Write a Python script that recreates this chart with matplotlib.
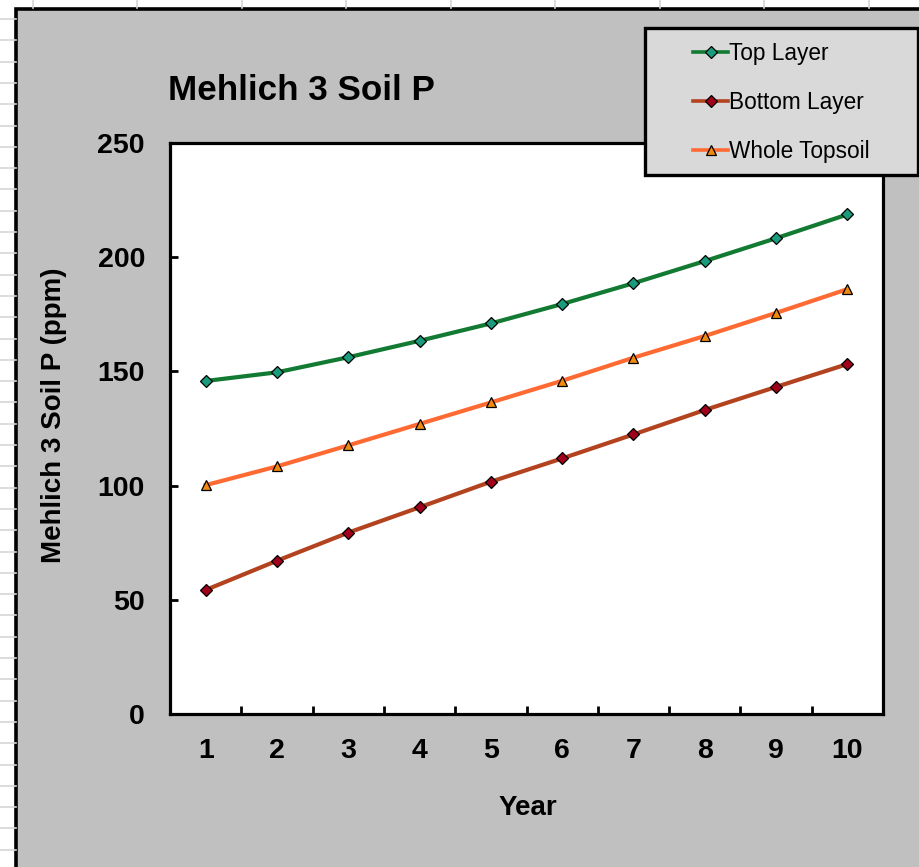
import matplotlib
matplotlib.use("Agg")
import matplotlib.pyplot as plt
from matplotlib.patches import Rectangle
from matplotlib.ticker import FixedLocator, NullFormatter

plt.rcParams['font.family'] = ['Liberation Sans', 'DejaVu Sans']

# Data
years = [1, 2, 3, 4, 5, 6, 7, 8, 9, 10]
top_layer = [145.8, 149.6, 156.2, 163.4, 171.0, 179.5, 188.6, 198.3, 208.3, 218.7]
bottom_layer = [54.3, 67.1, 79.4, 90.5, 101.7, 111.9, 122.4, 133.1, 143.2, 153.2]
whole_topsoil = [100.2, 108.4, 117.6, 127.0, 136.4, 145.9, 156.0, 165.5, 175.6, 186.0]
y_ticks = [0, 50, 100, 150, 200, 250]

W, H = 920, 867
fig = plt.figure(figsize=(W / 100, H / 100), dpi=100)
fig.patch.set_facecolor('white')

# Worksheet background with cell grid, and the gray chart area
bg = fig.add_axes([0, 0, 1, 1], zorder=-5)
bg.set_xlim(0, W)
bg.set_ylim(H, 0)
bg.axis('off')
grid_c = '#d6d6d6'
k = 0
while 19 + 21.3 * k < H:
    y = 19 + 21.3 * k
    bg.plot([0, 16], [y, y], color=grid_c, lw=1.2)
    k += 1
for x in [33, 137.5, 242, 346.5, 451, 555.5, 660, 764.5, 869]:
    bg.plot([x, x], [0, 8], color=grid_c, lw=1.2)
bg.add_patch(Rectangle((16.5, 9), 1000, 1000, facecolor='#c0c0c0',
                       edgecolor='black', lw=2.6))

# Plot area
ax = fig.add_axes([170 / W, 1 - 714 / H, 713 / W, 571 / H], zorder=1)
ax.set_facecolor('white')
for s in ax.spines.values():
    s.set_linewidth(2.3)
    s.set_color('black')

ax.plot(years, top_layer, color='#127a33', lw=3, marker='D', ms=5.8,
        mfc='#1a9c7c', mec='black', mew=0.9, label='Top Layer', zorder=3)
ax.plot(years, bottom_layer, color='#b3421f', lw=3, marker='D', ms=5.8,
        mfc='#a0001a', mec='black', mew=0.9, label='Bottom Layer', zorder=3)
ax.plot(years, whole_topsoil, color='#ff6a33', lw=3, marker='^', ms=7.2,
        mfc='#f08a10', mec='black', mew=0.9, label='Whole Topsoil', zorder=3)

ax.set_xlim(0.5, 10.5)
ax.set_ylim(0, 250)
ax.set_yticks(y_ticks)
ax.set_yticklabels([str(v) for v in y_ticks])
ax.xaxis.set_major_locator(FixedLocator(years))
ax.set_xticklabels([str(v) for v in years])
ax.xaxis.set_minor_locator(FixedLocator([y + 0.5 for y in years[:-1]]))
ax.xaxis.set_minor_formatter(NullFormatter())
ax.tick_params(axis='x', which='major', length=0, pad=17.5,
               labelsize=20.5)
ax.tick_params(axis='x', which='minor', direction='in', length=6,
               width=2, color='black')
ax.tick_params(axis='y', which='major', direction='in', length=6,
               width=2, pad=18, labelsize=20.5)
for lab in ax.get_xticklabels() + ax.get_yticklabels():
    lab.set_fontweight('bold')

# Titles
fig.text(168 / W, 1 - 100 / H, 'Mehlich 3 Soil P', fontsize=25.2,
         fontweight='bold', ha='left', va='baseline')
fig.text(527.5 / W, 1 - 815 / H, 'Year', fontsize=20,
         fontweight='bold', ha='center', va='baseline')
fig.text(54 / W, 1 - 415 / H, 'Mehlich 3 Soil P (ppm)', fontsize=20,
         fontweight='bold', rotation=90, ha='center', va='center')

# Legend box
fig.add_artist(Rectangle((645.5 / W, 1 - 175 / H), 272.5 / W, 147 / H,
                         transform=fig.transFigure, facecolor='#d9d9d9',
                         edgecolor='black', lw=2.4, zorder=4))
handles, labels = ax.get_legend_handles_labels()
leg = fig.legend(handles, labels, loc='center left',
                 bbox_to_anchor=(693 / W, 1 - 102.5 / H),
                 frameon=False, fontsize=16.3, numpoints=1,
                 handlelength=1.55, handletextpad=0.05, labelspacing=1.16,
                 borderpad=0, borderaxespad=0)
leg.set_zorder(6)
for h in leg.legend_handles:
    h.set_linewidth(2.6)

fig.savefig('out.png', dpi=100)
